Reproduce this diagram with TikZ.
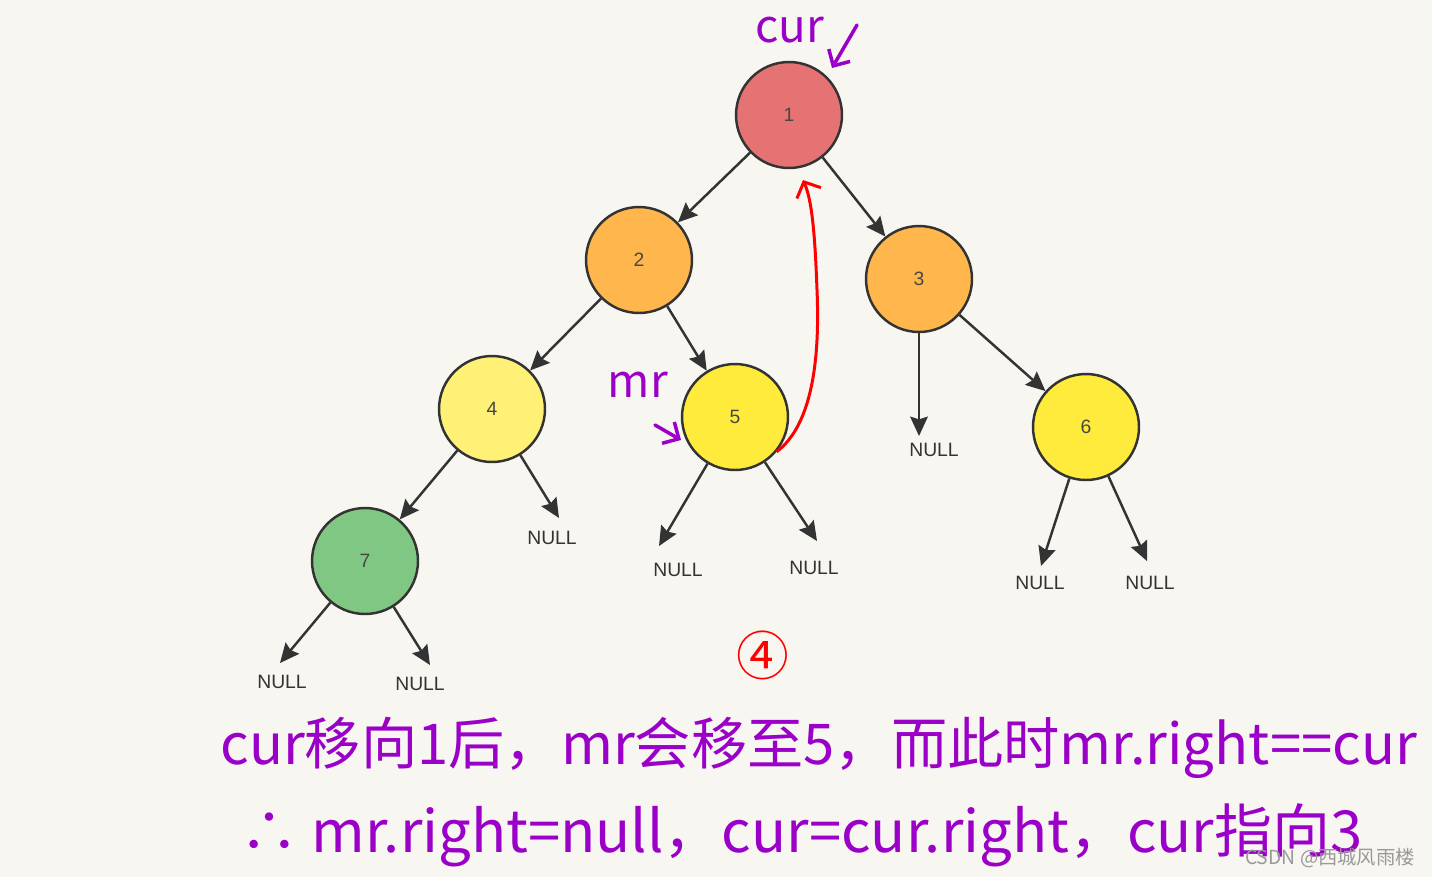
\documentclass[tikz,border=0pt]{standalone}
\usepackage{fontspec}
\setmainfont{Liberation Sans}
\newfontfamily\cjk{Noto Sans CJK SC}
\usetikzlibrary{arrows.meta}
\definecolor{papel}{HTML}{F8F6F1}
\definecolor{borda}{HTML}{333333}
\definecolor{roxo}{HTML}{9A00C8}
\definecolor{cvermelho}{HTML}{E57373}
\definecolor{claranja}{HTML}{FFB74D}
\definecolor{camarelo}{HTML}{FFF176}
\definecolor{cdourado}{HTML}{FFEB3B}
\definecolor{cverde}{HTML}{81C784}

\begin{document}
\begin{tikzpicture}[
  x=0.02cm, y=-0.02cm,
  vertice/.style={circle, draw=borda, line width=1.4pt, minimum size=2.12cm, inner sep=0pt, text=borda!90, font=\fontsize{11}{13}\selectfont},
  nulo/.style={inner sep=0pt, text=borda, font=\fontsize{11}{13}\selectfont},
  seta/.style={-{Stealth[length=11pt, width=10pt, inset=1.5pt]}, line width=1.4pt, draw=borda},
  nota/.style={inner sep=0pt, text=roxo, font=\cjk\fontsize{26}{30}\selectfont},
  risco/.style={-{Straight Barb[length=7pt, width=14pt]}, line width=2pt, draw=roxo, line cap=round}
]
\fill[papel] (0,0) rectangle (1432,877);

% arvore
\node[vertice, fill=cvermelho] (n1) at (789,115) {1};
\node[vertice, fill=claranja] (n2) at (639,260) {2};
\node[vertice, fill=claranja] (n3) at (919,279) {3};
\node[vertice, fill=camarelo] (n4) at (492,409) {4};
\node[vertice, fill=cdourado] (n5) at (735,417) {5};
\node[vertice, fill=cdourado] (n6) at (1086,427) {6};
\node[vertice, fill=cverde] (n7) at (365,561) {7};

\node[nulo] (v7a) at (282,682) {NULL};
\node[nulo] (v7b) at (420,684) {NULL};
\node[nulo] (v4) at (552,538) {NULL};
\node[nulo] (v5a) at (678,570) {NULL};
\node[nulo] (v5b) at (814,568) {NULL};
\node[nulo] (v3) at (934,450) {NULL};
\node[nulo] (v6a) at (1040,583) {NULL};
\node[nulo] (v6b) at (1150,583) {NULL};

\coordinate (e7a) at (280,663);
\coordinate (e7b) at (430,665);
\coordinate (e4) at (559,518);
\coordinate (e5a) at (659,546);
\coordinate (e5b) at (817,541);
\coordinate (e3) at (919,436);
\coordinate (e6a) at (1041,566);
\coordinate (e6b) at (1147,561);

\draw[seta] (n1) -- (n2);
\draw[seta] (n1) -- (n3);
\draw[seta] (n2) -- (n4);
\draw[seta] (n2) -- (n5);
\draw[seta] (n4) -- (n7);
\draw[seta] (n3) -- (n6);
\draw[seta] (n7) -- (e7a);
\draw[seta] (n7) -- (e7b);
\draw[seta] (n4) -- (e4);
\draw[seta] (n5) -- (e5a);
\draw[seta] (n5) -- (e5b);
\draw[seta] (n3) -- (e3);
\draw[seta] (n6) -- (e6a);
\draw[seta] (n6) -- (e6b);

% fio de volta 5 -> 1
\coordinate (rz) at (803,180);
\draw[red, line width=1.7pt, -{Straight Barb[length=7pt, width=15pt]}]
  (n5.-40) .. controls (812,425) and (820,360) .. (817,290)
  .. controls (815,235) and (812,200) .. (rz);

% anotacoes
\node[nota] (tcur) at (790,30) {cur};
\coordinate (pcur) at (857,25);
\coordinate (qcur) at (832,68);
\draw[risco] (pcur) -- (qcur);
\node[nota] (tmr) at (638,385) {mr};
\coordinate (pmr) at (655,425);
\coordinate (qmr) at (681,440);
\draw[risco] (pmr) -- (qmr);

\node[inner sep=0pt, text=red, font=\cjk\fontsize{30}{32}\selectfont] (passo) at (763,655) {④};

\node[nota, anchor=west, font=\cjk\fontsize{32}{36}\selectfont] (linha1) at (220,748) {cur移向1后，mr会移至5，而此时mr.right==cur};
\node[nota, anchor=west, font=\cjk\fontsize{33}{36}\selectfont] (linha2) at (240,835) {∴ mr.right=null，cur=cur.right，cur指向3};

\node[inner sep=0pt, text=black!40, font=\cjk\fontsize{11}{13}\selectfont] (marca) at (1330,858) {CSDN @西城风雨楼};
\end{tikzpicture}
\end{document}
